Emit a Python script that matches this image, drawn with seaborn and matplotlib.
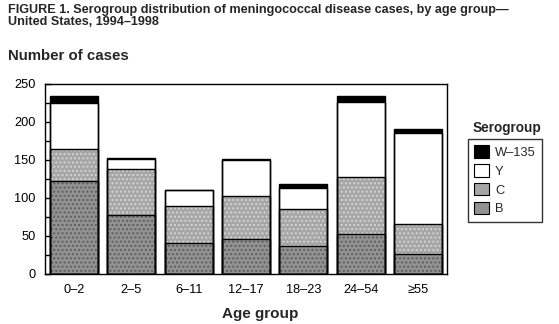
import numpy as np
import pandas as pd
import matplotlib
matplotlib.use("Agg")
import matplotlib.pyplot as plt
from matplotlib.patches import Patch
import seaborn as sns

# Serogroup counts per age group (1994-1998)
age_groups = ["0\u20132", "2\u20135", "6\u201311", "12\u201317", "18\u201323", "24\u201354", "\u226555"]
sero_b = [122, 77, 41, 46, 37, 53, 26]
sero_c = [43, 61, 48, 57, 48, 74, 40]
sero_y = [60, 13, 22, 47, 28, 99, 119]
sero_w135 = [9, 2, 0, 1, 5, 8, 6]
y_ticks = [0, 50, 100, 150, 200, 250]

sns.set_theme(style="ticks")
plt.rcParams["font.family"] = ["Liberation Sans", "DejaVu Sans"]
plt.rcParams["hatch.linewidth"] = 1.0

df = pd.DataFrame({"age": age_groups, "B": sero_b, "C": sero_c,
                   "Y": sero_y, "W-135": sero_w135})
df["cum_B"] = df["B"]
df["cum_C"] = df["cum_B"] + df["C"]
df["cum_Y"] = df["cum_C"] + df["Y"]
df["cum_W"] = df["cum_Y"] + df["W-135"]

fig = plt.figure(figsize=(5.59, 3.24), dpi=100)
ax = fig.add_axes([45 / 559, 50 / 324, 402 / 559, 190 / 324])

bar_w = 0.835
# (cumulative column, face colour, dot colour, hatch) drawn from the top segment down
layers = [
    ("cum_W", "#000000", "#000000", None),
    ("cum_Y", "#ffffff", "#ffffff", None),
    ("cum_C", "#a6a6a6", "#d4d4d4", "...."),
    ("cum_B", "#929292", "#5e5e5e", "...."),
]
for col, face, dots, hatch in layers:
    sns.barplot(data=df, x="age", y=col, color=face, saturation=1, width=bar_w,
                edgecolor=dots, linewidth=0, hatch=hatch, ax=ax, errorbar=None)
for col, _, _, _ in layers:
    sns.barplot(data=df, x="age", y=col, color="black", fill=False, width=bar_w,
                linewidth=1.0, ax=ax, errorbar=None)

ax.set_xlim(-0.5, 6.5)
ax.set_ylim(0, 250)
ax.set_yticks(y_ticks)
ax.set_yticks(np.arange(0, 251, 25), minor=True)
ax.set_xlabel("")
ax.set_ylabel("")
for s in ax.spines.values():
    s.set_visible(True)
    s.set_linewidth(1.0)
    s.set_color("black")
ax.tick_params(axis="y", which="both", direction="in", length=4, width=1.0,
               labelsize=9.2, pad=7, colors="black")
ax.tick_params(axis="x", which="major", direction="in", length=4, width=1.0,
               labelsize=9.2, pad=7, colors="black")
ax.tick_params(axis="x", which="minor", length=0)

fig.text(8 / 559, 1 - 4 / 324,
         "FIGURE 1. Serogroup distribution of meningococcal disease cases, by age group\u2014\nUnited States, 1994\u20131998",
         fontsize=9.1, fontweight="bold", ha="left", va="top", linespacing=0.95)
fig.text(8 / 559, 1 - 60 / 324, "Number of cases", fontsize=10.8,
         fontweight="bold", ha="left", va="baseline")
fig.text(260 / 559, 1 - 318 / 324, "Age group", fontsize=11,
         fontweight="bold", ha="center", va="baseline")

# Legend with its title set above the frame
fig.text(507 / 559, 1 - 132 / 324, "Serogroup", fontsize=9.8,
         fontweight="bold", ha="center", va="baseline")
handles = [
    Patch(facecolor="#000000", edgecolor="black", linewidth=0.8, label="W\u2013135"),
    Patch(facecolor="#ffffff", edgecolor="black", linewidth=0.8, label="Y"),
    Patch(facecolor="#a6a6a6", edgecolor="black", linewidth=0.8, label="C"),
    Patch(facecolor="#929292", edgecolor="black", linewidth=0.8, label="B"),
]
leg = fig.legend(handles=handles, loc="upper left",
                 bbox_to_anchor=(468 / 559, 1 - 139 / 324),
                 fontsize=9.3, frameon=True, fancybox=False,
                 edgecolor="black", handlelength=1.1, handleheight=1.1,
                 handletextpad=0.5, labelspacing=0.4, borderpad=0.5,
                 borderaxespad=0)
leg.get_frame().set_linewidth(1.0)

fig.savefig("out.png", dpi=100)
